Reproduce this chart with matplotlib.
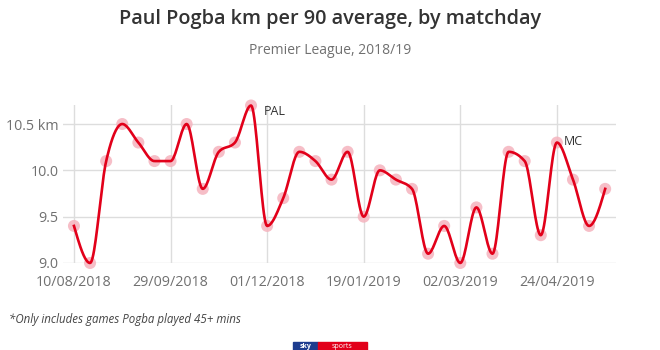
import matplotlib.pyplot as plt
import numpy as np
from matplotlib.patches import Rectangle

# km per 90 for each matchday (games with 45+ mins only)
km_per_90 = [9.4, 9.0, 10.1, 10.5, 10.3, 10.1, 10.1, 10.5, 9.8, 10.2, 10.3, 10.7,
             9.4, 9.7, 10.2, 10.1, 9.9, 10.2, 9.5, 10.0, 9.9, 9.8, 9.1, 9.4,
             9.0, 9.6, 9.1, 10.2, 10.1, 9.3, 10.3, 9.9, 9.4, 9.8]
tick_pos = [0, 6, 12, 18, 24, 30]
tick_labels = ["10/08/2018", "29/09/2018", "01/12/2018", "19/01/2019",
               "02/03/2019", "24/04/2019"]
y_ticks = [9.0, 9.5, 10.0, 10.5]
y_labels = ["9.0", "9.5", "10.0", "10.5 km"]
# label text, offset in points (dx, dy)
annotations = {11: ("PAL", 9, -4.5), 30: ("MC", 5, 0.5)}

RED = "#e2001a"
PINK = "#f5b3be"
GREY = "#707070"
FONT = "Open Sans"


def monotone_curve(x, y, n=20):
    """Monotone cubic (Fritsch-Carlson, like d3 curveMonotoneX)."""
    x = np.asarray(x, float)
    y = np.asarray(y, float)
    h = np.diff(x)
    s = np.diff(y) / h
    m = np.zeros_like(y)
    for i in range(1, len(y) - 1):
        if s[i - 1] * s[i] <= 0:
            m[i] = 0.0
        else:
            p = (s[i - 1] * h[i] + s[i] * h[i - 1]) / (h[i - 1] + h[i])
            m[i] = np.sign(s[i - 1]) * min(abs(s[i - 1]), abs(s[i]), 0.5 * abs(p)) * 2
    m[0] = (3 * s[0] - m[1]) / 2
    m[-1] = (3 * s[-1] - m[-2]) / 2
    xs, ys = [], []
    for i in range(len(h)):
        t = np.linspace(0, 1, n, endpoint=False)
        h00 = 2 * t**3 - 3 * t**2 + 1
        h10 = t**3 - 2 * t**2 + t
        h01 = -2 * t**3 + 3 * t**2
        h11 = t**3 - t**2
        xs.append(x[i] + t * h[i])
        ys.append(h00 * y[i] + h10 * h[i] * m[i] + h01 * y[i + 1] + h11 * h[i] * m[i + 1])
    xs.append([x[-1]])
    ys.append([y[-1]])
    return np.concatenate(xs), np.concatenate(ys)


x = np.arange(len(km_per_90))
cx, cy = monotone_curve(x, km_per_90)

fig = plt.figure(figsize=(6.6, 3.5), dpi=100)
ax = fig.add_axes([0.095, 0.2486, 0.839, 0.45])

ax.scatter(x, km_per_90, s=75, color=PINK, alpha=0.85, edgecolors="none",
           zorder=3, clip_on=False)
ax.plot(cx, cy, color=RED, lw=1.9, zorder=4, clip_on=False)

for i, (lab, dx, dy) in annotations.items():
    ax.annotate(lab, (x[i], km_per_90[i]), xytext=(dx, dy), textcoords="offset points",
                ha="left", va="center", fontsize=9, color="#333333", family=FONT)

ax.set_xlim(-0.7, 33.7)
ax.set_ylim(9.0, 10.7)
ax.set_xticks(tick_pos)
ax.set_xticklabels(tick_labels)
ax.set_yticks(y_ticks)
ax.set_yticklabels(y_labels)
ax.grid(True, color="#dddddd", lw=1)
ax.set_axisbelow(True)
for sp in ax.spines.values():
    sp.set_visible(False)
ax.tick_params(length=0, labelsize=10.3, labelcolor=GREY, pad=3)
ax.tick_params(axis="x", pad=8.5)
for lbl in ax.get_xticklabels() + ax.get_yticklabels():
    lbl.set_family(FONT)

fig.text(0.5, 1 - 19 / 350, "Paul Pogba km per 90 average, by matchday", ha="center",
         va="center", fontsize=14.3, fontweight="semibold", color="#333333", family=FONT)
fig.text(0.5, 1 - 51 / 350, "Premier League, 2018/19", ha="center", va="center",
         fontsize=10, color=GREY, family=FONT)
fig.text(9 / 660, 1 - 320 / 350, "*Only includes games Pogba played 45+ mins",
         ha="left", va="center", fontsize=8.3, style="italic", color="#444444", family=FONT)

# Sky Sports logo at the bottom edge
fig.patches.append(Rectangle((293 / 660, 0), 25 / 660, 8 / 350, transform=fig.transFigure,
                             color="#1d3c8f", clip_on=False))
fig.patches.append(Rectangle((318 / 660, 0), 49 / 660, 8 / 350, transform=fig.transFigure,
                             color="#e2001a", clip_on=False))
fig.text(305.5 / 660, 4 / 350, "sky", ha="center", va="center", fontsize=5,
         fontweight="bold", color="white", family=FONT)
fig.text(342.5 / 660, 4 / 350, "sports", ha="center", va="center", fontsize=5,
         color="white", family=FONT)

fig.savefig("out.png", dpi=100)
